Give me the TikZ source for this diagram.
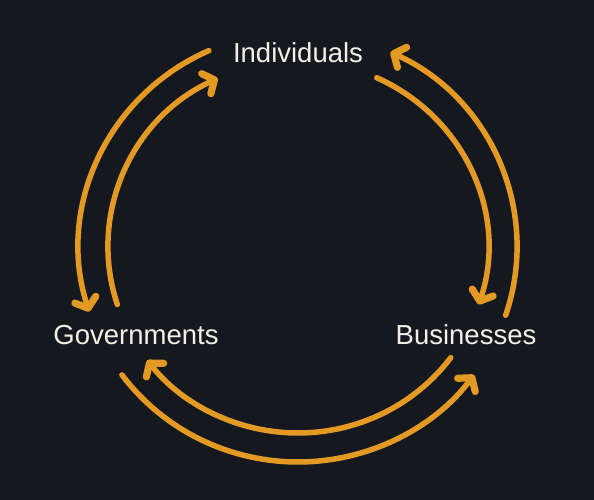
\documentclass[tikz,border=0pt]{standalone}
\usepackage{fontspec}
\setmainfont{Liberation Sans}
\usetikzlibrary{arrows.meta}
\definecolor{bg}{HTML}{16181F}
\definecolor{flow}{HTML}{E39A25}
\definecolor{ink}{HTML}{F4F0E8}
\begin{document}
\begin{tikzpicture}[x=1pt,y=1pt,
  label/.style={text=ink,font=\fontsize{27.5}{33}\selectfont,inner sep=0pt},
  flowarc/.style={draw=flow,line width=5.5pt,line cap=round,
    -{Straight Barb[length=9pt,width=22pt,line width=0pt 1.3,line cap=round,line join=round]}}]
  % canvas
  \fill[bg] (0,0) rectangle (594,500);
  \useasboundingbox (0,0) rectangle (594,500);
  % centre of the cycle
  \coordinate (hub) at (298,253);
  % actors
  \node[label] (ind) at (298,447) {Individuals};
  \node[label] (gov) at (136,165) {Governments};
  \node[label] (bus) at (466,165) {Businesses};
  % outer ring: Individuals -> Governments -> Businesses -> Individuals
  \draw[flowarc] (hub) ++(114:219 and 215)
    arc[start angle=114,end angle=197.5,x radius=219,y radius=215];
  \draw[flowarc] (hub) ++(216.5:219 and 215)
    arc[start angle=216.5,end angle=323.5,x radius=219,y radius=215];
  \draw[flowarc] (hub) ++(-18.5:219 and 215)
    arc[start angle=-18.5,end angle=65,x radius=219,y radius=215];
  % inner ring: the reverse direction
  \draw[flowarc] (hub) ++(198:190 and 186)
    arc[start angle=198,end angle=115,x radius=190,y radius=186];
  \draw[flowarc] (hub) ++(65.5:190 and 186)
    arc[start angle=65.5,end angle=-18,x radius=190,y radius=186];
  \draw[flowarc] (hub) ++(323.5:190 and 186)
    arc[start angle=323.5,end angle=217.5,x radius=190,y radius=186];
\end{tikzpicture}
\end{document}
